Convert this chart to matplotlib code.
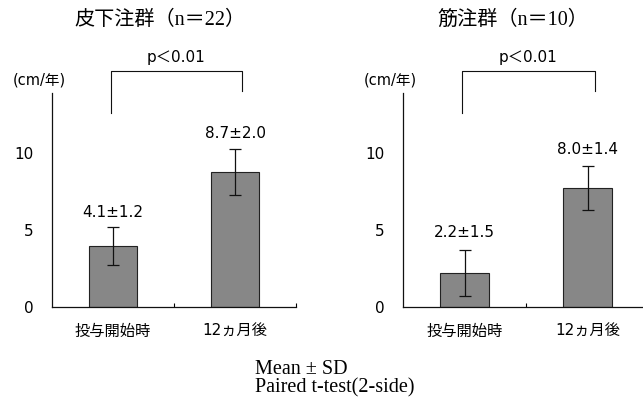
import matplotlib.pyplot as plt

plt.rcParams['font.family'] = ['DejaVu Sans', 'Noto Sans CJK JP']

categories = ['投与開始時', '12ヵ月後']
titles = ['皮下注群（n＝22）', '筋注群（n＝10）']
means_sc = [3.95, 8.77]
sd_sc = [1.25, 1.47]
labels_sc = ['4.1±1.2', '8.7±2.0']
means_im = [2.2, 7.75]
sd_im = [1.47, 1.42]
labels_im = ['2.2±1.5', '8.0±1.4']
p_text = 'p＜0.01'
unit = '(cm/年)'

fig = plt.figure(figsize=(6.43, 4.09), dpi=100)
W, H = 643, 409


def px_axes(x0, x1, y0, y1):
    # pixel box -> figure fraction
    return fig.add_axes([x0 / W, 1 - y1 / H, (x1 - x0) / W, (y1 - y0) / H])


def draw_panel(ax, means, sds, labels, title, label_y, title_x):
    x = [0, 1]
    ax.bar(x, means, width=0.4, color='#878787', edgecolor='#222222', linewidth=0.8, zorder=2)
    ax.errorbar(x, means, yerr=sds, fmt='none', ecolor='#111111', elinewidth=0.9,
                capsize=4, capthick=0.9, zorder=3)
    ax.set_xlim(-0.5, 1.5)
    ax.set_ylim(0, 13.9)
    ax.set_yticks([0, 5, 10])
    ax.set_yticklabels(['0', '5', '10'], fontsize=11)
    ax.tick_params(axis='y', length=0, pad=13)
    ax.set_xticks([0, 1])
    ax.set_xticklabels(categories, fontsize=11)
    ax.tick_params(axis='x', length=0, pad=12)
    ax.set_xticks([0.5, 1.5], minor=True)
    ax.tick_params(axis='x', which='minor', direction='in', length=3, width=0.8)
    for s in ['top', 'right']:
        ax.spines[s].set_visible(False)
    for s in ['left', 'bottom']:
        ax.spines[s].set_linewidth(0.9)
        ax.spines[s].set_color('#111111')
    for xi, lab, ly in zip(x, labels, label_y):
        ax.text(xi, ly, lab, ha='center', va='center', fontsize=11)
    # significance bracket
    ax.plot([-0.02, -0.02, 1.06, 1.06], [12.6, 15.3, 15.3, 14.0], color='#111111',
            lw=0.8, clip_on=False)
    ax.text(0.52, 16.2, p_text, ha='center', va='center', fontsize=11)
    ax.text(-0.6, 14.75, unit, ha='center', va='center', fontsize=10.5)
    ax.text(title_x, 18.6, title, ha='center', va='center', fontsize=14.5,
            family=['Liberation Serif', 'Noto Sans CJK JP'])


ax1 = px_axes(52, 296, 93, 307)
draw_panel(ax1, means_sc, sd_sc, labels_sc, titles[0], [6.17, 11.3], 0.385)
ax2 = px_axes(403, 649, 93, 307)
draw_panel(ax2, means_im, sd_im, labels_im, titles[1], [4.87, 10.2], 0.394)

fig.text(255 / W, 1 - 370 / H, 'Mean ± SD', family='Liberation Serif', fontsize=14.5, va='center')
fig.text(255 / W, 1 - 388 / H, 'Paired t-test(2-side)', family='Liberation Serif',
         fontsize=14.5, va='center')

fig.savefig('out.png', dpi=100)
